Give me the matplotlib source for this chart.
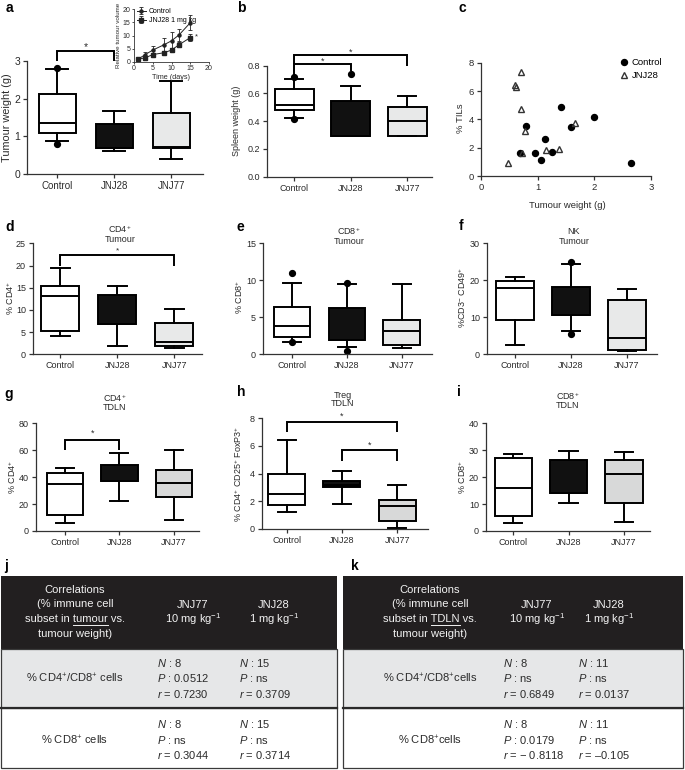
import matplotlib
matplotlib.use('Agg')
import matplotlib.pyplot as plt
from matplotlib.patches import Rectangle

plt.rcParams['font.family'] = ['Liberation Sans', 'DejaVu Sans']
plt.rcParams['mathtext.fontset'] = 'custom'
plt.rcParams['mathtext.rm'] = 'Liberation Sans'
plt.rcParams['mathtext.it'] = 'Liberation Sans:italic'
plt.rcParams['mathtext.bf'] = 'Liberation Sans:bold'

# ---------------- data ----------------
groups = ['Control', 'JNJ28', 'JNJ77']
# five-number summaries per group: [whisker low, Q1, median, Q3, whisker high]
tumour_weight = [[0.88, 1.08, 1.35, 2.13, 2.78], [0.60, 0.68, 0.68, 1.33, 1.66], [0.40, 0.70, 0.71, 1.63, 2.48]]
tumour_weight_pts = [[2.82, 0.80], [], []]
spleen_weight = [[0.425, 0.48, 0.52, 0.635, 0.705], [0.295, 0.295, 0.295, 0.545, 0.655], [0.295, 0.295, 0.40, 0.505, 0.58]]
spleen_weight_pts = [[0.72, 0.415], [0.74], []]
cd4_tumour = [[4.2, 5.3, 13.2, 15.3, 19.5], [1.8, 6.8, 6.8, 13.3, 15.4], [1.5, 1.8, 2.7, 7.1, 10.3]]
cd4_tumour_pts = [[], [], []]
cd8_tumour = [[1.7, 2.3, 3.8, 6.4, 9.7], [0.95, 2.0, 2.0, 6.2, 9.5], [0.9, 1.2, 3.2, 4.7, 9.5]]
cd8_tumour_pts = [[11.0, 1.6], [9.7, 0.5], []]
nk_tumour = [[2.4, 9.2, 17.8, 19.8, 21.0], [6.2, 10.7, 10.7, 18.3, 24.5], [0.9, 1.2, 4.3, 14.8, 17.6]]
nk_tumour_pts = [[], [25.0, 5.5], []]
cd4_tdln = [[6, 12, 35, 43, 47], [22, 37, 37, 49, 58], [8, 25, 36, 45.5, 60]]
cd4_tdln_pts = [[], [], []]
treg_tdln = [[1.25, 1.7, 2.5, 4.0, 6.4], [1.8, 3.0, 3.2, 3.45, 4.2], [0.1, 0.55, 1.65, 2.1, 3.2]]
treg_tdln_pts = [[], [], []]
cd8_tdln = [[3, 5.5, 16, 27, 28.5], [10.3, 14.2, 14.2, 26.3, 29.8], [3.5, 10.5, 21, 26.5, 29.5]]
cd8_tdln_pts = [[], [], []]

# inset growth curves
days = [1, 3, 5, 8, 10, 12, 15]
vol_control = [1.0, 2.8, 4.5, 6.5, 8.0, 10.2, 14.8]
err_control = [0.3, 0.8, 1.6, 2.5, 3.3, 2.3, 2.8]
vol_jnj28 = [1.0, 1.6, 2.8, 3.5, 4.5, 6.5, 9.2]
err_jnj28 = [0.2, 0.4, 0.5, 0.5, 0.8, 1.0, 1.2]

# panel c scatter
c_control_w = [0.68, 0.80, 0.96, 1.05, 1.13, 1.25, 1.41, 1.58, 2.00, 2.65]
c_control_til = [1.65, 3.55, 1.65, 1.10, 2.60, 1.70, 4.90, 3.45, 4.15, 0.95]
c_jnj28_w = [0.47, 0.60, 0.61, 0.70, 0.70, 0.73, 0.78, 1.15, 1.38, 1.66]
c_jnj28_til = [0.90, 6.40, 6.30, 7.35, 4.75, 1.60, 3.15, 1.85, 1.90, 3.75]

# tables
tab_cols = [('JNJ77', '10 mg kg$^{-1}$'), ('JNJ28', '1 mg kg$^{-1}$')]
tab_rows = ['% CD4$^{+}$/CD8$^{+}$ cells', '% CD8$^{+}$ cells']
tab_k_rows = ['% CD4$^{+}$/CD8$^{+}$cells', '% CD8$^{+}$cells']
j_N = [['8', '15'], ['8', '15']]
j_P = [['0.0512', 'ns'], ['ns', 'ns']]
j_r = [['0.7230', '0.3709'], ['0.3044', '0.3714']]
k_N = [['8', '11'], ['8', '11']]
k_P = [['ns', 'ns'], ['0.0179', 'ns']]
k_r = [['0.6849', '0.0137'], ['\u2212 0.8118', '\u20130.105']]

# ---------------- layout helpers ----------------
W, H = 685, 770
fig = plt.figure(figsize=(6.85, 7.70), dpi=100)
TXT = '#2a2a2a'
LW = 1.4
WHITE, BLACK, GREY1, GREY2 = 'white', '#111111', '#e8e9e9', '#d8d9d9'


def px_axes(x0, y0, x1, y1):
    return fig.add_axes([x0 / W, 1 - y1 / H, (x1 - x0) / W, (y1 - y0) / H])


def style(ax, ylim, yticks, fs=6.5, fmt=None):
    for s in ['top', 'right']:
        ax.spines[s].set_visible(False)
    for s in ['left', 'bottom']:
        ax.spines[s].set_color('#333333')
        ax.spines[s].set_linewidth(0.9)
    ax.set_ylim(*ylim)
    ax.set_yticks(yticks)
    if fmt:
        ax.set_yticklabels([fmt.format(v) for v in yticks])
    ax.tick_params(direction='out', length=3, width=0.9, colors='#333333',
                   labelcolor=TXT, labelsize=fs, pad=2)
    ax.patch.set_alpha(0)


def boxes(ax, summ, pts, fills, xlim, width=0.67, capw=0.33):
    stats = []
    for s, o, g in zip(summ, pts, groups):
        stats.append(dict(whislo=s[0], q1=s[1], med=s[2], q3=s[3], whishi=s[4],
                          fliers=o, label=g))
    bp = ax.bxp(stats, positions=[1, 2, 3], widths=width, patch_artist=True,
                showfliers=True, capwidths=capw,
                boxprops=dict(linewidth=LW, edgecolor='black'),
                medianprops=dict(color='black', linewidth=LW),
                whiskerprops=dict(color='black', linewidth=LW),
                capprops=dict(color='black', linewidth=LW),
                flierprops=dict(marker='o', markerfacecolor='black',
                                markeredgecolor='black', markersize=4.2))
    for patch, f in zip(bp['boxes'], fills):
        patch.set_facecolor(f)
    ax.set_xlim(*xlim)
    ax.set_xticks([1, 2, 3])
    ax.set_xticklabels(groups)


def bracket(ax, x1, x2, ytop, yl1, yl2, ystar=None, fs=6.5):
    ax.plot([x1, x1, x2, x2], [yl1, ytop, ytop, yl2], color='black', lw=LW,
            clip_on=False, solid_joinstyle='miter', solid_capstyle='butt')
    if ystar is not None:
        ax.text((x1 + x2) / 2, ystar, '*', ha='center', va='center', fontsize=fs,
                color=TXT, clip_on=False)


fills_top = [WHITE, BLACK, GREY1]
fills_bot = [WHITE, BLACK, GREY2]

# ---------------- panel a ----------------
ax = px_axes(27, 61, 203, 174)
boxes(ax, tumour_weight, tumour_weight_pts, fills_top, (0.47, 3.56), width=0.65, capw=0.38)
style(ax, (0, 3), [0, 1, 2, 3], fs=7.5)
ax.tick_params(axis='x', labelsize=7)
bracket(ax, 1, 2, 3.27, 3.0, 3.0, 3.36, fs=7.5)

ins = px_axes(134, 9, 209, 62)
ins.errorbar(days, vol_control, yerr=err_control, color='#222222', marker='o', ms=2.2,
             lw=0.7, elinewidth=0.6, capsize=1.2, capthick=0.6, label='Control')
ins.errorbar(days, vol_jnj28, yerr=err_jnj28, color='#222222', marker='s', ms=2.2,
             lw=0.7, elinewidth=0.6, capsize=1.2, capthick=0.6, label='JNJ28 1 mg kg')
ins.set_xlim(0, 20)
ins.set_ylim(0, 20)
ins.set_xticks([0, 5, 10, 15, 20])
ins.set_yticks([0, 5, 10, 15, 20])
for s in ['top', 'right']:
    ins.spines[s].set_visible(False)
for s in ['left', 'bottom']:
    ins.spines[s].set_linewidth(0.6)
    ins.spines[s].set_color('#333333')
ins.tick_params(length=1.5, width=0.6, labelsize=5, pad=1, colors='#333333', labelcolor=TXT)
ins.set_xlabel('Time (days)', fontsize=5.2, labelpad=1, color=TXT)
ins.set_ylabel('Relative tumour volume', fontsize=4.5, labelpad=1, color=TXT)
ins.text(16.6, 9.6, '*', fontsize=5.5, ha='center', va='center', color=TXT)
ins.legend(loc='upper left', fontsize=5, frameon=False, handlelength=1.3,
           borderaxespad=0.1, labelspacing=0.25, handletextpad=0.4, borderpad=0.1,
           bbox_to_anchor=(0.02, 1.04))

# ---------------- panel b ----------------
ax = px_axes(267, 65.7, 432, 176.7)
boxes(ax, spleen_weight, spleen_weight_pts, fills_top, (0.52, 3.44), width=0.69)
style(ax, (0, 0.8), [0, 0.2, 0.4, 0.6, 0.8], fmt='{:.1f}')
bracket(ax, 1, 2, 0.81, 0.73, 0.765, 0.835)
bracket(ax, 1, 3, 0.874, 0.81, 0.80, 0.898)

# ---------------- panel c ----------------
ax = px_axes(481, 62.7, 651, 176)
ax.plot(c_control_w, c_control_til, 'o', color='black', ms=4.3, label='Control', clip_on=False)
ax.plot(c_jnj28_w, c_jnj28_til, '^', mfc='none', mec='#333333', mew=1.0, ms=4.8,
        label='JNJ28', clip_on=False)
ax.set_xlim(0, 3)
ax.set_xticks([0, 1, 2, 3])
style(ax, (0, 8), [0, 2, 4, 6, 8], fs=6.8)
ax.legend(loc='upper left', bbox_to_anchor=(0.82, 1.04), frameon=False, fontsize=6.8,
          handlelength=0.8, handletextpad=0.4, borderaxespad=0, borderpad=0,
          labelspacing=0.45)

# ---------------- panels d, e, f ----------------
ax = px_axes(33, 243.3, 202, 354.3)
boxes(ax, cd4_tumour, cd4_tumour_pts, fills_top, (0.52, 3.49))
style(ax, (0, 25), [0, 5, 10, 15, 20, 25])
bracket(ax, 1, 3, 22.4, 20.0, 20.0, 23.2, fs=6)

ax = px_axes(263, 243.3, 432, 354.3)
boxes(ax, cd8_tumour, cd8_tumour_pts, fills_top, (0.47, 3.55))
style(ax, (0, 15), [0, 5, 10, 15])

ax = px_axes(487, 243.3, 657, 354.3)
boxes(ax, nk_tumour, nk_tumour_pts, fills_top, (0.5, 3.54))
style(ax, (0, 30), [0, 10, 20, 30])

# ---------------- panels g, h, i ----------------
ax = px_axes(36, 423.3, 199, 531)
boxes(ax, cd4_tdln, cd4_tdln_pts, fills_bot, (0.47, 3.46))
style(ax, (0, 80), [0, 20, 40, 60, 80])
bracket(ax, 1, 2, 67.6, 60, 60, 72.5)

ax = px_axes(262, 418.3, 428, 529)
boxes(ax, treg_tdln, treg_tdln_pts, fills_bot, (0.55, 3.56))
style(ax, (0, 8), [0, 2, 4, 6, 8])
bracket(ax, 1, 3, 7.75, 7.03, 7.03, 8.15)
bracket(ax, 2, 3, 5.71, 4.91, 4.91, 6.07)

ax = px_axes(486, 423.3, 650, 531)
boxes(ax, cd8_tdln, cd8_tdln_pts, fills_bot, (0.51, 3.47))
style(ax, (0, 40), [0, 10, 20, 30, 40])

# ---------------- overlay (pixel coordinates) ----------------
ov = fig.add_axes([0, 0, 1, 1], zorder=20)
ov.set_xlim(0, W)
ov.set_ylim(H, 0)
ov.axis('off')


def T(x, y, s, **kw):
    kw.setdefault('ha', 'center')
    kw.setdefault('va', 'center')
    kw.setdefault('color', TXT)
    return ov.text(x, y, s, **kw)


# panel letters
for lt, (x, y) in {'a': (6, 8), 'b': (237, 8), 'c': (459, 8), 'd': (5, 227),
                   'e': (237, 227), 'f': (459, 226), 'g': (4, 394), 'h': (237, 392),
                   'i': (457, 392), 'j': (4, 566), 'k': (351, 566)}.items():
    T(x, y, lt, fontsize=10, fontweight='bold', color='black', ha='left')

# axis labels
T(7, 118, 'Tumour weight (g)', fontsize=7.8, rotation=90)
T(237, 121, 'Spleen weight (g)', fontsize=6.5, rotation=90)
T(461, 118, '% TILs', fontsize=6.8, rotation=90)
T(567, 205, 'Tumour weight (g)', fontsize=6.8)
T(10, 298, '% CD4$^{+}$', fontsize=6.5, rotation=90)
T(239, 297, '% CD8$^{+}$', fontsize=6.5, rotation=90)
T(462, 297, '%CD3$^{-}$ CD49$^{+}$', fontsize=6.5, rotation=90)
T(12, 477, '% CD4$^{+}$', fontsize=6.5, rotation=90)
T(238, 474, '% CD4$^{+}$ CD25$^{+}$ FoxP3$^{+}$', fontsize=6.5, rotation=90)
T(462, 477, '% CD8$^{+}$', fontsize=6.5, rotation=90)

# panel titles
for x, y1, s1, y2, s2 in [(120, 229, 'CD4$^{+}$', 239.5, 'Tumour'),
                          (349, 231, 'CD8$^{+}$', 242, 'Tumour'),
                          (574, 231, 'NK', 242, 'Tumour'),
                          (115, 398, 'CD4$^{+}$', 407, 'TDLN'),
                          (343, 395, 'Treg', 404, 'TDLN'),
                          (568, 396, 'CD8$^{+}$', 406, 'TDLN')]:
    T(x, y1, s1, fontsize=6.5)
    T(x, y2, s2, fontsize=6.5)

# ---------------- tables ----------------
HDR, ROW1 = '#221f20', '#e6e7e8'
y_top, y_h, y_r1, y_bot = 576, 649, 708, 768
FS = 8
underlines = []


def table(x0, x1, c1, cc, cl, word, prefix, rows, Ns, Ps, Rs):
    ov.add_patch(Rectangle((x0, y_top), x1 - x0, y_h - y_top, facecolor=HDR, edgecolor='none'))
    ov.add_patch(Rectangle((x0, y_h), x1 - x0, y_r1 - y_h, facecolor=ROW1,
                           edgecolor='#3a3a3a', lw=0.9))
    ov.add_patch(Rectangle((x0, y_r1), x1 - x0, y_bot - y_r1, facecolor='white',
                           edgecolor='#3a3a3a', lw=0.9))
    ov.plot([x0, x1], [y_r1, y_r1], color='#2a2a2a', lw=1.6)
    hl = ['Correlations', '(% immune cell', prefix + word + ' vs.', 'tumour weight)']
    for yy, s in zip([590, 604, 619, 634], hl):
        t = T(c1, yy, s, fontsize=FS, color='#f2f2f2')
        if s.startswith(prefix):
            underlines.append((t, prefix, word))
    for (a, b), xc in zip(tab_cols, cc):
        T(xc, 605, a, fontsize=FS, color='#f2f2f2')
        T(xc, 619, b, fontsize=FS, color='#f2f2f2')
    for ri, (lab, ys) in enumerate(zip(rows, [(663, 678, 694), (724, 740, 755)])):
        T(c1, ys[1], lab, fontsize=FS)
        for ci, xl in enumerate(cl):
            T(xl, ys[0], '$N$ : ' + Ns[ri][ci], fontsize=FS, ha='left')
            T(xl, ys[1], '$P$ : ' + Ps[ri][ci], fontsize=FS, ha='left')
            T(xl, ys[2], '$r$ = ' + Rs[ri][ci], fontsize=FS, ha='left')


table(1, 337, 75, [193, 274], [157, 239], 'tumour', 'subset in ', tab_rows, j_N, j_P, j_r)
table(343, 683, 430, [537, 609], [503, 578], 'TDLN', 'subset in ', tab_k_rows, k_N, k_P, k_r)

fig.canvas.draw()
r = fig.canvas.get_renderer()
for t, prefix, word in underlines:
    bb = t.get_window_extent(renderer=r)
    tmp1 = ov.text(0, 0, prefix + word, fontsize=FS)
    tmp2 = ov.text(0, 0, word, fontsize=FS)
    w1 = tmp1.get_window_extent(renderer=r).width
    w2 = tmp2.get_window_extent(renderer=r).width
    tmp1.remove()
    tmp2.remove()
    xe = bb.x0 + w1
    xs = xe - w2
    yl = H - bb.y0 + 0.5
    ov.plot([xs, xe], [yl, yl], color='#f2f2f2', lw=0.7)

fig.savefig('out.png', dpi=100)
